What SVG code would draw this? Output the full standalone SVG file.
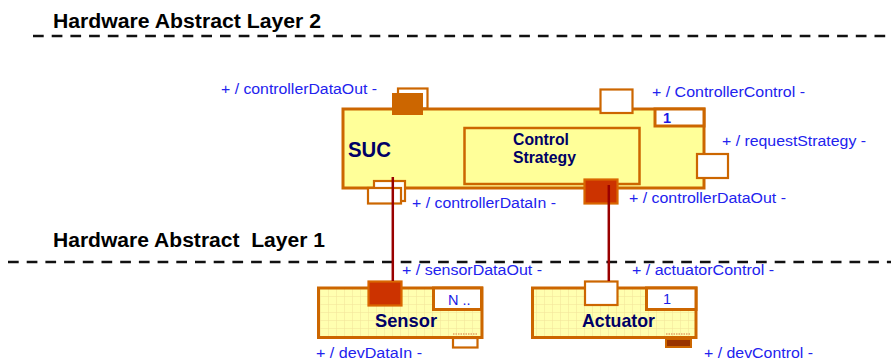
<svg xmlns="http://www.w3.org/2000/svg" width="891" height="363" viewBox="0 0 891 363">
<defs>
<pattern id="grid" width="8" height="8" patternUnits="userSpaceOnUse">
<rect width="8" height="8" fill="#FFFFB0"/>
<path d="M0 0.3H8M0.3 0V8" stroke="#F2E49A" stroke-width="0.7" fill="none"/>
</pattern>
<style>
.title{font-family:"Liberation Sans",Arial,sans-serif;font-weight:bold;font-size:20px;fill:#000}
.lay{stroke:#111;stroke-width:2.6;stroke-dasharray:10.7 8;fill:none}
.box{fill:#FFFF99;stroke:#CC6600;stroke-width:3}
.gbox{fill:url(#grid);stroke:#CC6600;stroke-width:3}
.inner{fill:#FFFF99;stroke:#CC6600;stroke-width:2.5}
.mult{fill:#fff;stroke:#CC6600;stroke-width:3}
.port{fill:#fff;stroke:#CC6600;stroke-width:2.2}
.pred{fill:#CC3300;stroke:#D96600;stroke-width:2.2}
.pbrown{fill:#CC6600}
.pdark{fill:#993300;stroke:#CC6600;stroke-width:2}
.conn{stroke:#990000;stroke-width:2.5;fill:none}
.name{font-family:"Liberation Sans",Arial,sans-serif;font-weight:bold;fill:#000066}
.lbl{font-family:"Liberation Sans",Arial,sans-serif;font-size:15.5px;fill:#2222EE}
.mtxt{font-family:"Liberation Sans",Arial,sans-serif;font-size:14.5px;fill:#1A1AE6}
.dots{stroke:#EBB878;stroke-width:2;stroke-dasharray:1.5 1}
</style>
</defs>
<g id="layers">
<text class="title" x="53" y="28" textLength="268" lengthAdjust="spacingAndGlyphs">Hardware Abstract Layer 2</text>
<line class="lay" x1="33" y1="36" x2="891" y2="36"/>
<text class="title" x="53" y="247" textLength="272" lengthAdjust="spacingAndGlyphs" xml:space="preserve">Hardware Abstract  Layer 1</text>
<line class="lay" x1="8" y1="262" x2="891" y2="262"/>
</g>
<g id="SUC">
<rect class="port" x="398" y="88.5" width="29.5" height="20"/>
<rect class="box" x="343" y="109" width="361" height="79"/>
<rect class="pbrown" x="392" y="93" width="31" height="22"/>
<text class="name" x="348" y="157" font-size="22" textLength="43" lengthAdjust="spacingAndGlyphs">SUC</text>
<rect class="mult" x="655" y="109" width="49" height="17"/>
<text class="mtxt" x="663" y="123" font-weight="bold" fill="#0000CC">1</text>
<rect class="port" x="600.5" y="89.5" width="32" height="23.5"/>
<rect class="port" x="697" y="154" width="31" height="24"/>
<rect class="port" x="374" y="181" width="31" height="20"/>
<rect class="port" x="368" y="188" width="33" height="15.5"/>
</g>
<g id="ControlStrategy">
<rect class="inner" x="464.5" y="128" width="175" height="56"/>
<text class="name" x="513" y="145" font-size="16" textLength="56" lengthAdjust="spacingAndGlyphs">Control</text>
<text class="name" x="513" y="163" font-size="16" textLength="63" lengthAdjust="spacingAndGlyphs">Strategy</text>
<rect class="pred" x="584.5" y="179.5" width="33" height="24"/>
</g>
<g id="Sensor">
<rect class="gbox" x="318.5" y="288" width="163.5" height="49.5"/>
<rect class="mult" x="433.5" y="288" width="48" height="21.5"/>
<text class="mtxt" x="448" y="305">N ..</text>
<text class="name" x="375" y="327" font-size="18.5" textLength="62" lengthAdjust="spacingAndGlyphs">Sensor</text>
<rect class="pred" x="368.5" y="281.5" width="33" height="24"/>
<line class="dots" x1="453" y1="334" x2="477" y2="334"/>
<rect class="port" x="453" y="338" width="24.5" height="9.5"/>
</g>
<g id="Actuator">
<rect class="gbox" x="532.5" y="288" width="163.5" height="49.5"/>
<rect class="mult" x="646.5" y="288" width="49.5" height="21.5"/>
<text class="mtxt" x="663" y="304">1</text>
<text class="name" x="582" y="327" font-size="18.5" textLength="73" lengthAdjust="spacingAndGlyphs">Actuator</text>
<rect class="port" x="585" y="281.5" width="32.5" height="23.5"/>
<line class="dots" x1="666" y1="334" x2="691" y2="334"/>
<rect class="pdark" x="666" y="339" width="25" height="8"/>
</g>
<g id="connectors">
<line class="conn" x1="392.8" y1="177" x2="392.8" y2="281"/>
<line class="conn" x1="608.8" y1="185" x2="608.8" y2="281"/>
</g>
<g id="labels">
<text class="lbl" x="221" y="94" textLength="156" lengthAdjust="spacingAndGlyphs">+ / controllerDataOut -</text>
<text class="lbl" x="652" y="97" textLength="153" lengthAdjust="spacingAndGlyphs">+ / ControllerControl -</text>
<text class="lbl" x="722" y="146" textLength="144" lengthAdjust="spacingAndGlyphs">+ / requestStrategy -</text>
<text class="lbl" x="629" y="203" textLength="157" lengthAdjust="spacingAndGlyphs">+ / controllerDataOut -</text>
<text class="lbl" x="412" y="208" textLength="144" lengthAdjust="spacingAndGlyphs">+ / controllerDataIn -</text>
<text class="lbl" x="402" y="275" textLength="140" lengthAdjust="spacingAndGlyphs">+ / sensorDataOut -</text>
<text class="lbl" x="632" y="275" textLength="142" lengthAdjust="spacingAndGlyphs">+ / actuatorControl -</text>
<text class="lbl" x="316" y="358" textLength="106" lengthAdjust="spacingAndGlyphs">+ / devDataIn -</text>
<text class="lbl" x="704" y="358" textLength="109" lengthAdjust="spacingAndGlyphs">+ / devControl -</text>
</g>
</svg>
